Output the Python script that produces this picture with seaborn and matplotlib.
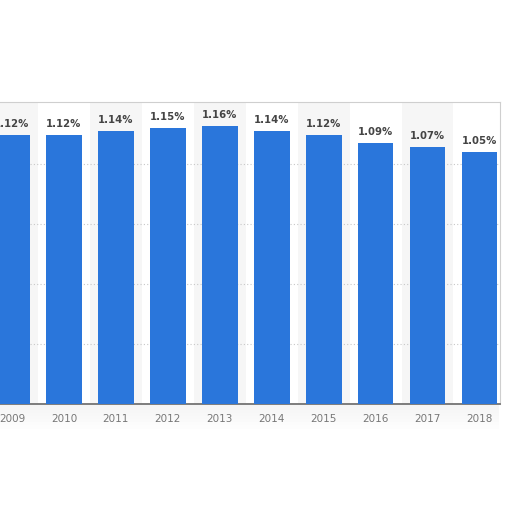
import matplotlib
matplotlib.use("Agg")
import matplotlib.pyplot as plt
from matplotlib.patches import Rectangle
import seaborn as sns
import pandas as pd

years = ["2009", "2010", "2011", "2012", "2013", "2014", "2015", "2016", "2017", "2018"]
rates = [1.12, 1.12, 1.14, 1.15, 1.16, 1.14, 1.12, 1.09, 1.07, 1.05]
labels = ["1.12%", "1.12%", "1.14%", "1.15%", "1.16%", "1.14%", "1.12%", "1.09%", "1.07%", "1.05%"]

df = pd.DataFrame({"year": years, "rate": rates})

sns.set_style("white")
plt.rcParams['font.family'] = ['DejaVu Sans']

fig = plt.figure(figsize=(5.12, 5.12), dpi=100)
fig.patch.set_facecolor("white")

# soft shadow under the chart panel
for k in range(8):
    fig.patches.append(Rectangle((0.0, 0.211 - 0.006 * (k + 1)), 0.975, 0.006,
                                 transform=fig.transFigure, color="#888888",
                                 alpha=0.09 * (1 - k / 8), lw=0, zorder=0))

ax = fig.add_axes([0.0, 0.211, 0.977, 0.59])

# alternating column shading
for i in range(len(years)):
    if i % 2 == 0:
        ax.axvspan(i - 0.5, i + 0.5, color="#f6f6f6", zorder=0, lw=0)

sns.barplot(ax=ax, data=df, x="year", y="rate", color="#2a76db",
            saturation=1, width=0.69, edgecolor="none", linewidth=0, zorder=3)

ax.set_xlim(-0.23, 9.4)
ax.set_ylim(0, 1.26)
ax.set_yticks([0.25, 0.5, 0.75, 1.0])
ax.yaxis.grid(True, ls=(0, (1, 2)), color="#c8c8c8", lw=0.8, zorder=1)
ax.set_axisbelow(True)
ax.set_yticklabels([])
ax.tick_params(axis="y", length=0)
ax.tick_params(axis="x", length=0, labelsize=7.5, labelcolor="#777777", pad=7)
ax.set_xlabel("")
ax.set_ylabel("")

for i, (v, t) in enumerate(zip(rates, labels)):
    ax.text(i, v + 0.025, t, ha="center", va="bottom", fontsize=7.3,
            fontweight="bold", color="#444444", zorder=4)

ax.spines["left"].set_visible(False)
ax.spines["top"].set_color("#cfcfcf")
ax.spines["right"].set_color("#cfcfcf")
ax.spines["bottom"].set_color("#666666")
ax.spines["bottom"].set_linewidth(1.2)

fig.savefig("out.png", dpi=100, facecolor="white")
